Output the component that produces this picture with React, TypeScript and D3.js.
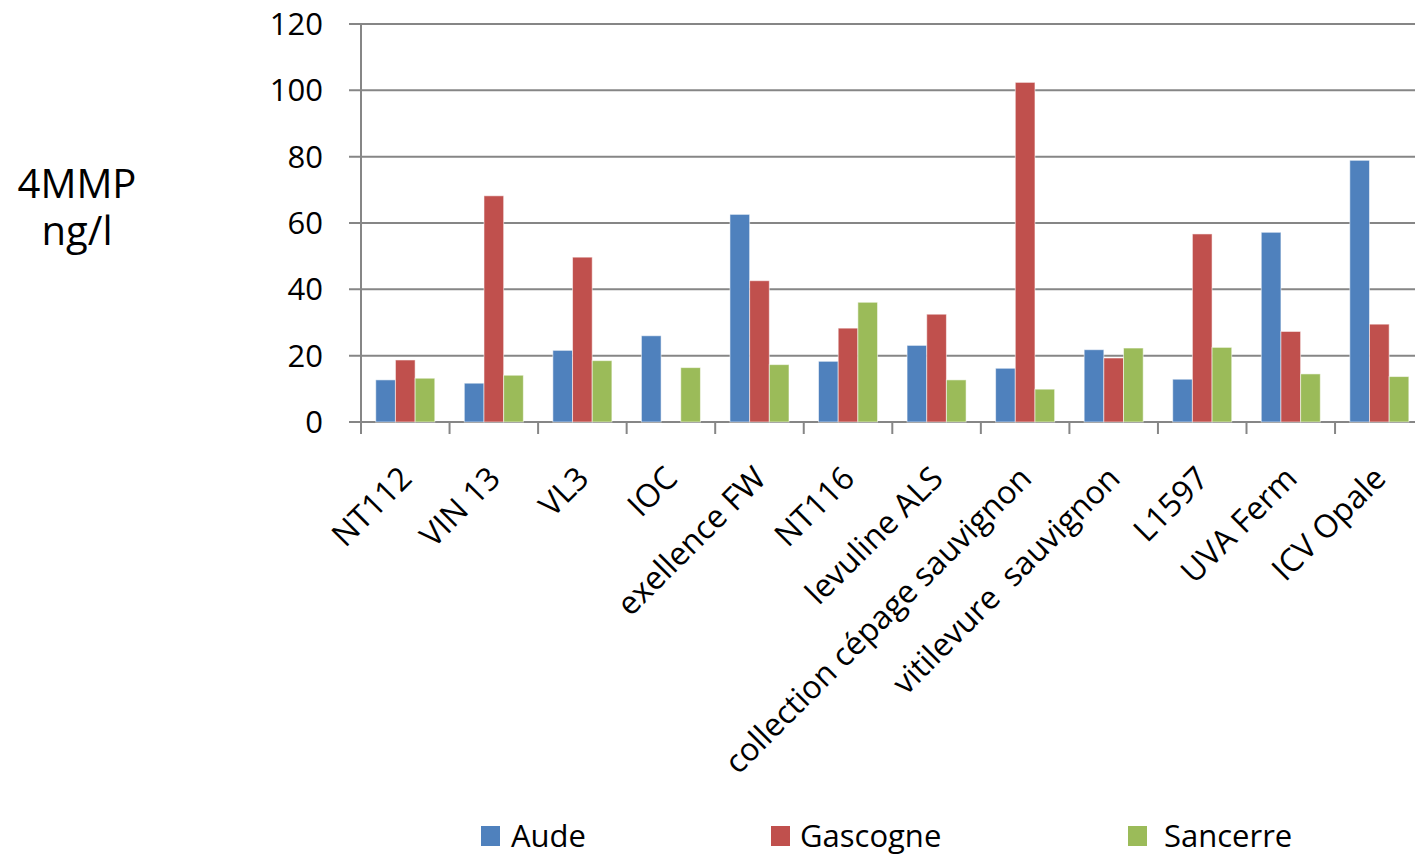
import React, { useEffect, useRef } from "react";
import * as d3 from "d3";

const categories = [
  "NT112",
  "VIN 13",
  "VL3",
  "IOC",
  "exellence FW",
  "NT116",
  "levuline ALS",
  "collection cépage sauvignon",
  "vitilevure  sauvignon",
  "L1597",
  "UVA Ferm",
  "ICV Opale",
];
const seriesNames = ["Aude", "Gascogne", "Sancerre"];
const aude = [12.7, 11.7, 21.6, 26.0, 62.6, 18.3, 23.1, 16.2, 21.8, 12.9, 57.2, 78.9];
const gascogne = [18.7, 68.2, 49.7, 0, 42.6, 28.3, 32.5, 102.4, 19.3, 56.7, 27.3, 29.5];
const sancerre = [13.2, 14.1, 18.5, 16.4, 17.3, 36.1, 12.7, 9.9, 22.3, 22.5, 14.5, 13.7];
const yTicks = [0, 20, 40, 60, 80, 100, 120];
const colors = ["#4F81BD", "#C0504D", "#9BBB59"];

const W = 1415;
const H = 856;
const FONT = "'Open Sans', sans-serif";

export default function App() {
  const ref = useRef<SVGSVGElement>(null);

  useEffect(() => {
    const svg = d3.select(ref.current);
    svg.selectAll("*").remove();

    const left = 361;
    const right = 1423.6;
    const top = 24;
    const bottom = 422;

    const x0 = d3.scaleBand<string>().domain(categories).range([left, right]).paddingInner(0).paddingOuter(0);
    const x1 = d3.scaleBand<string>().domain(seriesNames).range([0, x0.bandwidth()]).paddingInner(0).paddingOuter(0.75);
    const y = d3.scaleLinear().domain([0, 120]).range([bottom, top]);

    const grid = "#868686";

    // gridlines
    svg
      .append("g")
      .selectAll("line")
      .data(yTicks)
      .join("line")
      .attr("x1", left - 12)
      .attr("x2", W)
      .attr("y1", (d) => y(d))
      .attr("y2", (d) => y(d))
      .attr("stroke", grid)
      .attr("stroke-width", 2);

    // y axis line
    svg
      .append("line")
      .attr("x1", left)
      .attr("x2", left)
      .attr("y1", top)
      .attr("y2", bottom + 12)
      .attr("stroke", grid)
      .attr("stroke-width", 2);

    // x ticks at category boundaries
    const boundaries = categories.map((c) => x0(c) as number);
    svg
      .append("g")
      .selectAll("line")
      .data(boundaries)
      .join("line")
      .attr("x1", (d) => d)
      .attr("x2", (d) => d)
      .attr("y1", bottom)
      .attr("y2", bottom + 12)
      .attr("stroke", grid)
      .attr("stroke-width", 2);

    // y tick labels
    svg
      .append("g")
      .selectAll("text")
      .data(yTicks)
      .join("text")
      .attr("x", 323)
      .attr("y", (d) => y(d))
      .attr("dy", "0.36em")
      .attr("text-anchor", "end")
      .attr("font-family", FONT)
      .attr("font-size", 31)
      .attr("fill", "#000")
      .text((d) => String(d));

    // bars
    const data = [aude, gascogne, sancerre];
    const groups = svg
      .append("g")
      .selectAll("g")
      .data(categories)
      .join("g")
      .attr("transform", (c) => `translate(${x0(c)},0)`);
    groups
      .selectAll("rect")
      .data((c) => seriesNames.map((s, k) => ({ s, k, v: data[k][categories.indexOf(c)] })))
      .join("rect")
      .filter((d) => d.v > 0)
      .attr("x", (d) => x1(d.s) as number)
      .attr("width", x1.bandwidth())
      .attr("y", (d) => y(d.v))
      .attr("height", (d) => y(0) - y(d.v))
      .attr("fill", (d) => colors[d.k])
      .attr("stroke", "rgba(255,255,255,0.55)")
      .attr("stroke-width", 1);

    // x labels rotated
    svg
      .append("g")
      .selectAll("text")
      .data(categories)
      .join("text")
      .attr("transform", (c) => {
        const cx = (x0(c) as number) + x0.bandwidth() / 2 - 8;
        return `translate(${cx},${bottom + 42}) rotate(-45)`;
      })
      .attr("text-anchor", "end")
      .attr("dy", "0.72em")
      .attr("font-family", FONT)
      .attr("font-size", 32)
      .attr("fill", "#000")
      .attr("xml:space", "preserve")
      .style("white-space", "pre")
      .text((c) => c);

    // y axis title
    const title = svg
      .append("text")
      .attr("text-anchor", "middle")
      .attr("font-family", FONT)
      .attr("font-size", 40)
      .attr("fill", "#000");
    title.append("tspan").attr("x", 77).attr("y", 198).text("4MMP");
    title.append("tspan").attr("x", 77).attr("y", 245).text("ng/l");

    // legend
    const legendX = [481, 771, 1128];
    const textX = [511, 800, 1164];
    const lg = svg
      .append("g")
      .selectAll("g")
      .data(seriesNames)
      .join("g");
    lg.append("rect")
      .attr("x", (d, i) => legendX[i])
      .attr("y", 826)
      .attr("width", 19)
      .attr("height", 20)
      .attr("fill", (d, i) => colors[i]);
    lg.append("text")
      .attr("x", (d, i) => textX[i])
      .attr("y", 847)
      .attr("font-family", FONT)
      .attr("font-size", 31)
      .attr("fill", "#000")
      .text((d) => d);
  }, []);

  return (
    <div style={{ position: "absolute", left: 0, top: 0, width: W, height: H, overflow: "hidden", background: "#fff" }}>
      <svg ref={ref} width={W} height={H} style={{ display: "block" }} />
    </div>
  );
}
